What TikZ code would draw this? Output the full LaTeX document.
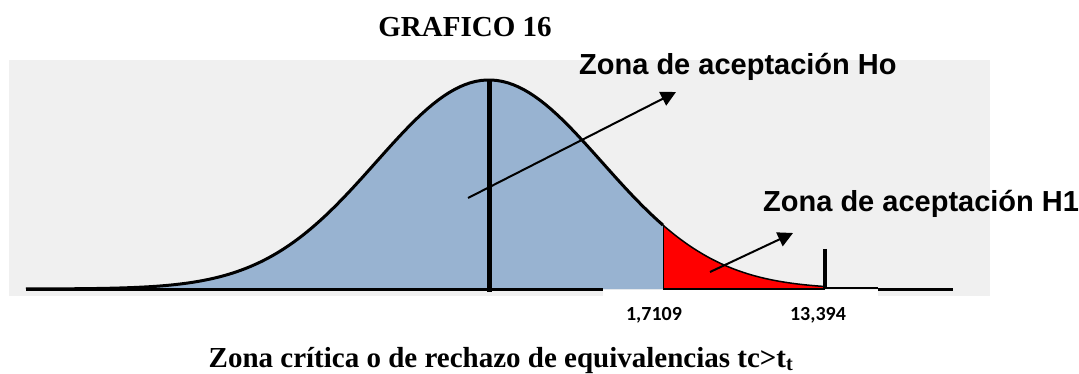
\documentclass[tikz,border=0pt]{standalone}
\usepackage{fontspec}
\newfontfamily\timesfont{Liberation Serif}
\newfontfamily\arialfont{Liberation Sans}
\newfontfamily\calibrifont{Carlito}
\usetikzlibrary{arrows.meta}

\definecolor{bgGray}{RGB}{240,240,240}
\definecolor{bellBlue}{RGB}{152,179,209}

\begin{document}
\begin{tikzpicture}[
      x=1pt, y=-1pt,
      declare function={bell(\t)=289-209*exp(-0.5*((\t-489)/113)^2);},
      titletext/.style={
         font=\timesfont\bfseries\fontsize{29}{34}\selectfont,
         inner sep=0pt,
         anchor=base},
      zonetext/.style={
         font=\arialfont\bfseries\fontsize{29}{34}\selectfont,
         inner sep=0pt,
         anchor=base west},
      valtext/.style={
         font=\calibrifont\bfseries\fontsize{20}{24}\selectfont,
         inner sep=0pt,
         anchor=base},
      myarrow/.style={-{Triangle[length=15pt,width=15pt]}, line width=2pt},
      axisline/.style={line width=3pt}
      ]
      \useasboundingbox (0,0) rectangle (1079,374);

      % background of the chart
      \fill[bgGray] (9,60) rectangle (990,296);
      \fill[white] (603,290) rectangle (878,297);

      % acceptance and rejection areas
      \fill[bellBlue] (26,289) -- plot[domain=26:663, samples=120] (\x,{bell(\x)}) -- (663,289) -- cycle;
      \fill[red] (663,289) -- plot[domain=663:825, samples=60] (\x,{bell(\x)}) -- (825,289) -- cycle;
      \draw[line width=3pt] plot[domain=26:663, samples=120] (\x,{bell(\x)});
      \draw[line width=1.5pt] plot[domain=663:825, samples=60] (\x,{bell(\x)});
      \draw[line width=1pt] (663,{bell(663)}) -- (663,289);

      % axis
      \draw[axisline] (26,289) -- (603,289);
      \draw[line width=2pt] (663,289) -- (825,289);
      \draw[line width=1.5pt] (825,288) -- (878,288);
      \draw[axisline] (878,289) -- (953,289);
      \draw[line width=5pt] (489,80) -- (489,292);
      \draw[line width=4pt] (825,249) -- (825,289);

      \node[titletext] (title) at (465,37) {GRAFICO 16};
      \node[zonetext] (zoneHo) at (579,75) {Zona de aceptación Ho};
      \node[zonetext] (zoneHone) at (763,212) {Zona de aceptación H1};
      \node[valtext] (tcrit) at (654,320) {1,7109};
      \node[valtext] (tcalc) at (818,320) {13,394};
      \node[titletext] (caption) at (501,367) {Zona crítica o de rechazo de equivalencias tc>t\textsubscript{t}};

      \coordinate (hoTail) at (468,198);
      \coordinate (hoTip) at (676,92);
      \coordinate (honeTail) at (710,272);
      \coordinate (honeTip) at (793,233);
      \draw[myarrow] (hoTail) -- (hoTip);
      \draw[myarrow] (honeTail) -- (honeTip);

\end{tikzpicture}
\end{document}
